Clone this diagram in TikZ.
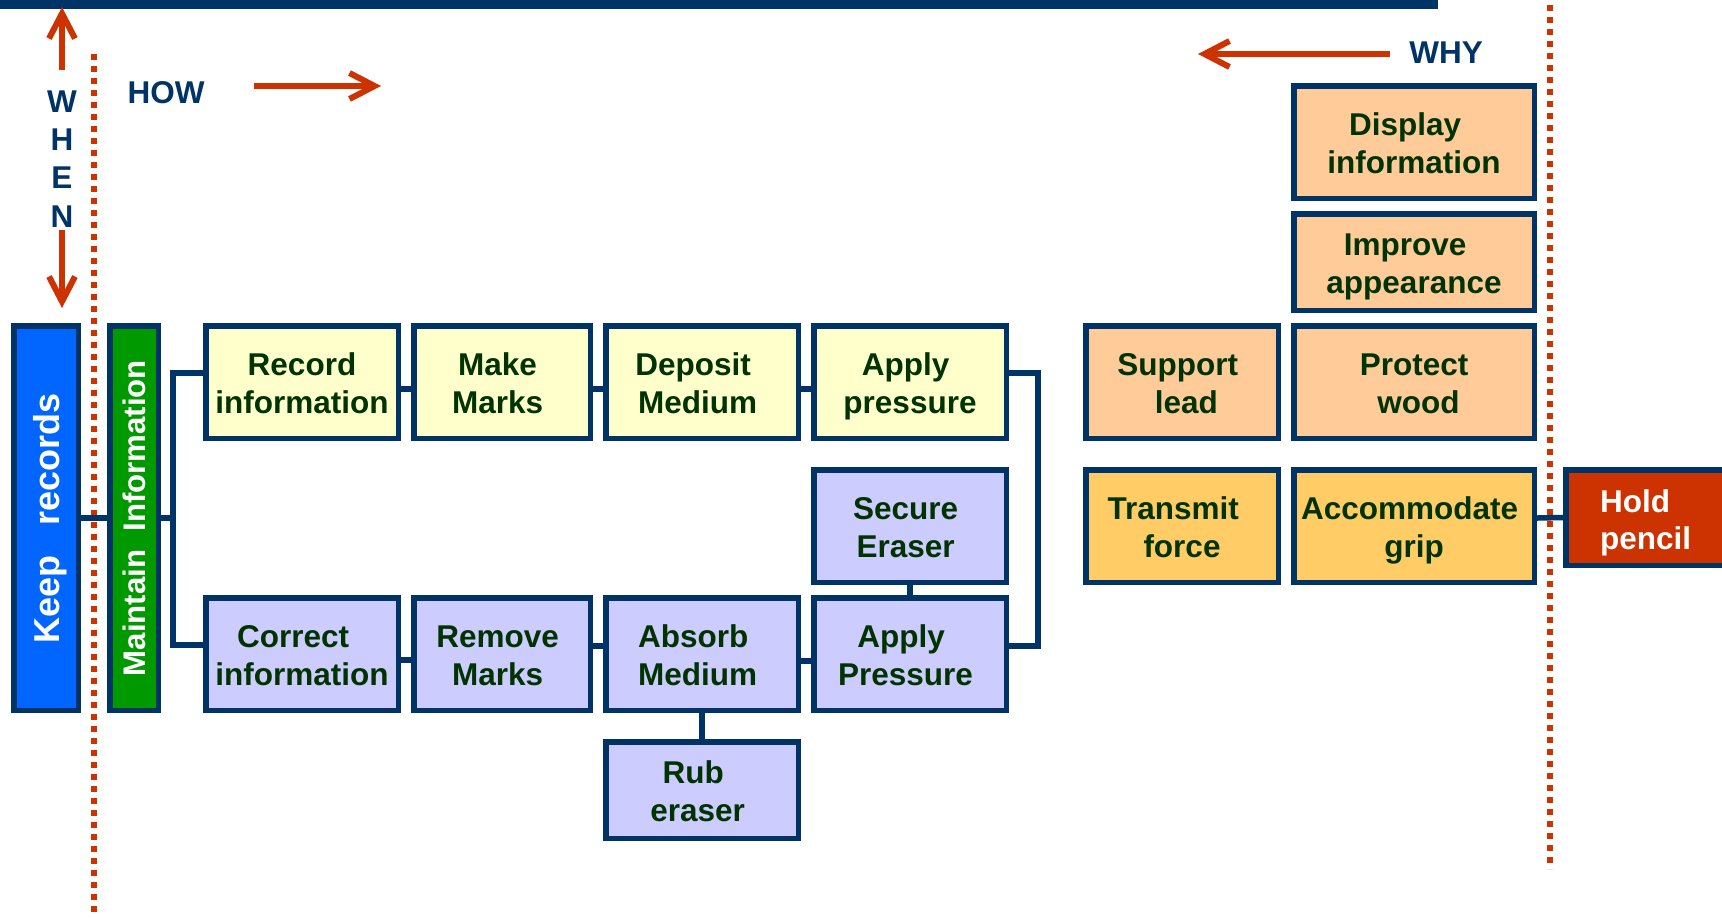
\documentclass[tikz,border=0pt]{standalone}
\usepackage{fontspec}
\setmainfont{Liberation Sans}
\usepackage{graphicx}
\usetikzlibrary{arrows.meta}
\definecolor{navy}{HTML}{003366}
\definecolor{tgreen}{HTML}{003300}
\definecolor{yel}{HTML}{FFFFCC}
\definecolor{lav}{HTML}{CCCCFF}
\definecolor{peach}{HTML}{FFCC99}
\definecolor{gold}{HTML}{FFCC66}
\definecolor{redc}{HTML}{CC3300}
\definecolor{kblue}{HTML}{0066FF}
\definecolor{kgreen}{HTML}{009900}
\newcommand\bx[7]{%
  \pgfmathsetmacro\bxw{(#4-#2-5.5)*0.5}%
  \pgfmathsetmacro\bxh{(#5-#3-5.5)*0.5}%
  \node[#6, minimum width=\bxw pt, minimum height=\bxh pt] (#1) at ({(#2+#4)/2},{(#3+#5)/2}) {#7};%
}
% two fixed lines: first-line height and last-line depth fixed
\newcommand\twol[2]{\rule{0pt}{15.5pt}#1\\#2\rule[-3.5pt]{0pt}{3.5pt}}
\newcommand\tsp{\kern4.4pt}
\newcommand\lsp{\hspace*{4.4pt}}
\tikzset{
  bxs/.style={draw=navy, line width=2.75pt, inner sep=0pt, align=center,
    font=\bfseries\fontsize{15.75pt}{19pt}\selectfont, text=tgreen},
  yelbox/.style={bxs, fill=yel},
  lavbox/.style={bxs, fill=lav},
  peachbox/.style={bxs, fill=peach},
  goldbox/.style={bxs, fill=gold},
  conn/.style={draw=navy, line width=2.75pt, line join=miter},
  dotl/.style={draw=redc, line width=2.9pt, dash pattern=on 3pt off 3pt},
  rarr/.style={draw=redc, line width=3pt, -{Straight Barb[length=12.5pt,width=13pt]}},
  lbl/.style={text=navy, font=\bfseries\fontsize{15.75pt}{19pt}\selectfont, inner sep=0pt},
}
\begin{document}
\begin{tikzpicture}[x=0.5pt,y=-0.5pt]
\useasboundingbox (0,0) rectangle (1722,917);
\fill[white] (0,0) rectangle (1722,917);
% top bar
\fill[navy] (0,0) rectangle (1438,9);
% dotted lines
\coordinate (dl1) at (94,54);
\coordinate (dl2) at (94,917);
\coordinate (dr1) at (1550,5);
\coordinate (dr2) at (1550,869);
\draw[dotl] (dl1) -- (dl2);
\draw[dotl] (dr1) -- (dr2);
% WHEN
\coordinate (wu1) at (62,70);
\coordinate (wu2) at (62,7);
\coordinate (wd1) at (62,230);
\coordinate (wd2) at (62,308);
\draw[rarr] (wu1) -- (wu2);
\draw[rarr] (wd1) -- (wd2);
\node[lbl, anchor=base] (wW) at (62,112) {W};
\node[lbl, anchor=base] (wH) at (62,150) {H};
\node[lbl, anchor=base] (wE) at (62,188) {E};
\node[lbl, anchor=base] (wN) at (62,227) {N};
% HOW
\node[lbl, anchor=base] (how) at (166,103) {HOW};
\coordinate (ha1) at (254,86);
\coordinate (ha2) at (381,86);
\draw[rarr] (ha1) -- (ha2);
% WHY
\node[lbl, anchor=base] (why) at (1446,63) {WHY};
\coordinate (ya1) at (1390,54);
\coordinate (ya2) at (1198,54);
\draw[rarr] (ya1) -- (ya2);
% boxes
\bx{keep}{11}{323}{81}{713}{bxs, fill=kblue, text=white, font=\bfseries\fontsize{18pt}{21pt}\selectfont}{\rotatebox{90}{Keep\hspace{15pt}records}\kern-4.5pt}
\bx{maint}{107}{323}{161}{713}{bxs, fill=kgreen, text=white, font=\bfseries\fontsize{15.6pt}{19pt}\selectfont}{\rotatebox{90}{Maintain\hspace{9pt}Information}}
\bx{rec}{203}{323}{401}{441}{yelbox}{\twol{Record}{information}}
\bx{make}{411}{323}{593}{441}{yelbox}{\twol{Make\tsp}{Marks\tsp}}
\bx{dep}{603}{323}{801}{441}{yelbox}{\twol{Deposit\tsp\tsp}{Medium\tsp}}
\bx{app}{811}{323}{1009}{441}{yelbox}{\twol{Apply\tsp}{pressure}}
\bx{sec}{811}{467}{1009}{585}{lavbox}{\twol{Secure\tsp}{Eraser\tsp}}
\bx{cor}{203}{595}{401}{713}{lavbox}{\twol{Correct\tsp\tsp}{information}}
\bx{rem}{411}{595}{593}{713}{lavbox}{\twol{Remove\tsp}{Marks\tsp}}
\bx{abs}{603}{595}{801}{713}{lavbox}{\twol{Absorb\tsp\tsp}{Medium\tsp}}
\bx{appP}{811}{595}{1009}{713}{lavbox}{\twol{Apply\tsp\tsp}{Pressure\tsp}}
\bx{rub}{603}{739}{801}{841}{lavbox}{\twol{Rub\tsp\tsp}{eraser\tsp}}
\bx{disp}{1291}{83}{1537}{201}{peachbox}{\twol{Display\tsp\tsp}{information}}
\bx{impr}{1291}{211}{1537}{313}{peachbox}{\twol{Improve\tsp\tsp}{appearance}}
\bx{sup}{1083}{323}{1281}{441}{peachbox}{\twol{Support\tsp}{\lsp lead}}
\bx{prot}{1291}{323}{1537}{441}{peachbox}{\twol{Protect}{\lsp wood}}
\bx{tra}{1083}{467}{1281}{585}{goldbox}{\twol{Transmit\tsp\tsp}{force}}
\bx{acc}{1291}{467}{1537}{585}{goldbox}{\twol{Accommodate\tsp}{grip}}
\bx{hold}{1563}{467}{1728}{568}{bxs, fill=redc, text=white, align=left, font=\bfseries\fontsize{15.75pt}{18.5pt}\selectfont}{\rule{0pt}{16.5pt}Hold\\pencil\rule[-3.5pt]{0pt}{3.5pt}}
% connectors
\coordinate (bl) at (173,518);
\coordinate (brr) at (1038,510);
\draw[conn] (keep) -- (maint);
\draw[conn] (maint.east) -- (bl);
\draw[conn] ([yshift=4.5pt]rec.west) -| (bl) |- ([yshift=4.5pt]cor.west);
\draw[conn] ([yshift=-3.5pt]rec.east) -- ([yshift=-3.5pt]make.west);
\draw[conn] ([yshift=-3.5pt]make.east) -- ([yshift=-3.5pt]dep.west);
\draw[conn] ([yshift=-3.5pt]dep.east) -- ([yshift=-3.5pt]app.west);
\draw[conn] ([yshift=4.5pt]app.east) -| (brr) |- ([yshift=4pt]appP.east);
\draw[conn] ([yshift=-3pt]cor.east) -- ([yshift=-3pt]rem.west);
\draw[conn] ([yshift=4pt]rem.east) -- ([yshift=4pt]abs.west);
\draw[conn] ([yshift=-3.5pt]abs.east) -- ([yshift=-3.5pt]appP.west);
\draw[conn] (sec) -- (appP);
\draw[conn] (abs) -- (rub);
\draw[conn] ([yshift=4pt]acc.east) -- (hold.west);
\end{tikzpicture}
\end{document}
